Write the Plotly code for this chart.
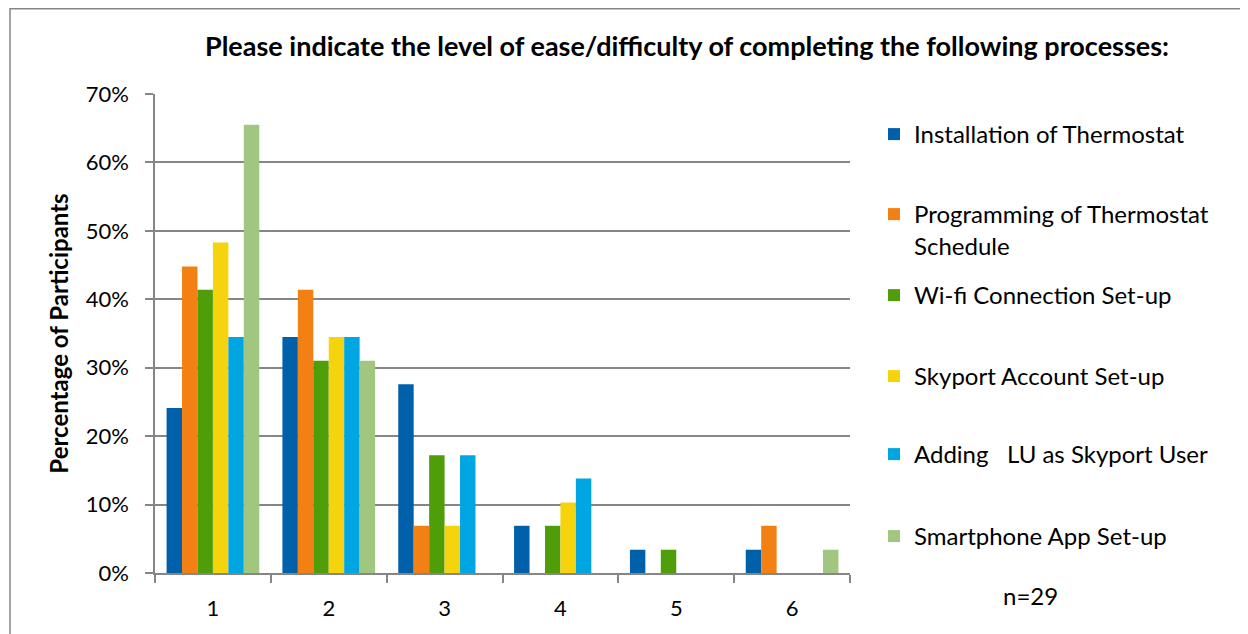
import plotly.graph_objects as go

# ease/difficulty levels (1 = easiest)
levels = ["1", "2", "3", "4", "5", "6"]

processes = [
    "Installation of Thermostat",
    "Programming of Thermostat<br>Schedule",
    "Wi-fi Connection Set-up",
    "Skyport Account Set-up",
    "Adding   LU as Skyport User",
    "Smartphone App Set-up",
]

# share of participants (n=29)
installation = [0.241, 0.345, 0.276, 0.069, 0.034, 0.034]
programming = [0.448, 0.414, 0.069, 0.0, 0.0, 0.069]
wifi = [0.414, 0.310, 0.172, 0.069, 0.034, 0.0]
skyport = [0.483, 0.345, 0.069, 0.103, 0.0, 0.0]
adding_user = [0.345, 0.345, 0.172, 0.138, 0.0, 0.0]
smartphone = [0.655, 0.310, 0.0, 0.0, 0.0, 0.034]

series = [installation, programming, wifi, skyport, adding_user, smartphone]
colors = ["#0060AA", "#F38012", "#509D0A", "#F5D40E", "#00A6E2", "#A1C680"]

font = "Lato, Open Sans, sans-serif"
grey = "#868686"

# page body has an 8px margin, so the figure is drawn 8px smaller
W, H = 1240, 626
plot_l, plot_r, plot_t, plot_b = 155, 850, 94, 573  # screen px


def px_x(x):
    return (x - plot_l) / (plot_r - plot_l)


def px_y(y):
    return (plot_b - y) / (plot_b - plot_t)


# each legend entry sits in its own legend so the spacing can follow the original
legend_tops = [112, 192, 273, 354, 432, 514]

fig = go.Figure()
legends = {}
for i, (name, vals, col) in enumerate(zip(processes, series, colors)):
    key = "legend" if i == 0 else f"legend{i + 1}"
    fig.add_trace(go.Bar(x=levels, y=vals, name=name, marker_color=col,
                         marker_line_width=0, legend=key))
    legends[key] = dict(x=px_x(874), y=px_y(legend_tops[i]), xanchor="left", yanchor="top",
                        valign="top", bgcolor="rgba(0,0,0,0)",
                        font=dict(size=24, family=font, color="black"))

fig.update_layout(
    width=W, height=H,
    margin=dict(l=plot_l - 8, r=W - (plot_r - 8), t=plot_t - 8, b=H - (plot_b - 8)),
    paper_bgcolor="white", plot_bgcolor="white",
    font=dict(family=font, size=22, color="black"),
    barmode="group", bargap=0.2, bargroupgap=0,
    title=dict(text="<b>Please indicate the level of ease/difficulty of completing the following processes:</b>",
               x=(687 - 8) / W, xanchor="center", y=1 - (47 - 8) / H, yanchor="middle",
               font=dict(size=27, family=font)),
    showlegend=True,
    **legends,
)

fig.update_xaxes(type="category", showgrid=False, showline=True, linecolor=grey,
                 linewidth=1.5, ticks="outside", tickson="boundaries", ticklen=8,
                 tickcolor=grey, tickwidth=1.5, ticklabelstandoff=15)
fig.update_yaxes(range=[0, 0.7], dtick=0.1, tickformat=".0%", showgrid=True,
                 gridcolor=grey, gridwidth=1.5, showline=True, linecolor=grey,
                 linewidth=1.5, ticks="outside", ticklen=8, tickcolor=grey, tickwidth=1.5,
                 zeroline=False, ticklabelstandoff=12,
                 title=dict(text="<b>Percentage of Participants</b>", standoff=10,
                            font=dict(size=24, family=font)))

fig.add_annotation(text="n=29", xref="paper", yref="paper", x=px_x(1030), y=px_y(595),
                   xanchor="center", yanchor="middle",
                   showarrow=False, font=dict(size=24, family=font))

# outer chart-area border
fig.add_shape(type="rect", xref="paper", yref="paper",
              x0=px_x(10), x1=px_x(1260), y0=px_y(660), y1=px_y(8.8),
              line=dict(color=grey, width=1.5), fillcolor="rgba(0,0,0,0)")

fig.write_html("out.html")
